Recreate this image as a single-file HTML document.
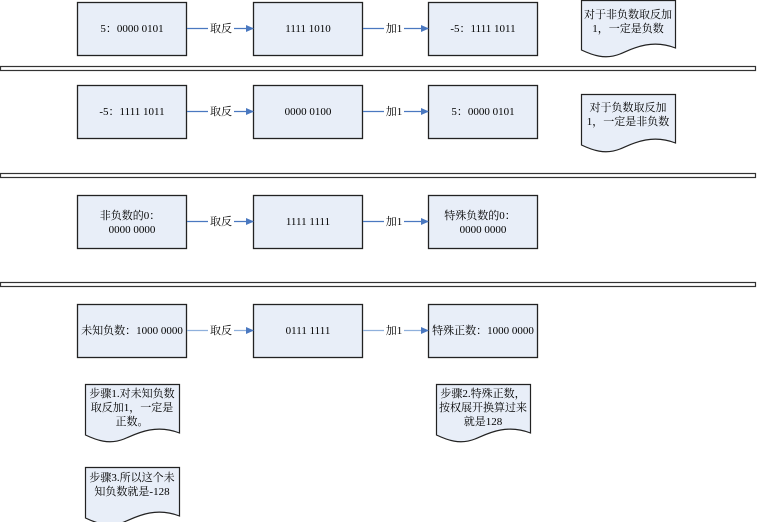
<!DOCTYPE html>
<html><head><meta charset="utf-8"><style>
html,body{margin:0;padding:0;background:#fff;}
svg{display:block;font-family:"Liberation Serif","Noto Serif CJK SC","Noto Sans CJK SC",serif;}
text{font-size:11px;fill:#000;}
</style></head><body>
<svg width="757" height="522" viewBox="0 0 757 522">
<defs>
<marker id="ar" markerWidth="8" markerHeight="8" refX="7" refY="4" orient="auto" markerUnits="userSpaceOnUse">
<path d="M0,0.5 L8,4 L0,7.5 Z" fill="#4a78c0"/></marker>
</defs>
<g fill="none" stroke="#333" stroke-width="1.2">
<rect x="0.5" y="66.5" width="755" height="4"/>
<rect x="0.5" y="173.5" width="755" height="4"/>
<rect x="0.5" y="282.5" width="755" height="4"/>
</g>
<g fill="#e8eef8" stroke="#222" stroke-width="1.3">
<rect x="77.5" y="2.5" width="109" height="53"/>
<rect x="253.5" y="2.5" width="109" height="53"/>
<rect x="428.5" y="2.5" width="109" height="53"/>
<rect x="77.5" y="85.5" width="109" height="53"/>
<rect x="253.5" y="85.5" width="109" height="53"/>
<rect x="428.5" y="85.5" width="109" height="53"/>
<rect x="77.5" y="195.5" width="109" height="53"/>
<rect x="253.5" y="195.5" width="109" height="53"/>
<rect x="428.5" y="195.5" width="109" height="53"/>
<rect x="77.5" y="304.5" width="109" height="53"/>
<rect x="253.5" y="304.5" width="109" height="53"/>
<rect x="428.5" y="304.5" width="109" height="53"/>
</g>
<g fill="#e8eef8" stroke="#222" stroke-width="1.2">
<path d="M581.5,0.5 H675.5 V48 C650,38 630,50 620,54 C605,60 592,55 581.5,50 Z"/>
<path d="M581.5,94.5 H675.5 V143 C650,133 630,145 620,149 C605,155 592,150 581.5,145 Z"/>
<path d="M85.5,384.5 H179.5 V433 C154,423 134,435 124,439 C109,445 96,440 85.5,435 Z"/>
<path d="M436.5,384.5 H530.5 V433 C505,423 485,435 475,439 C460,445 447,440 436.5,435 Z"/>
<path d="M85.5,467.5 H179.5 V516 C154,506 134,518 124,522 C109,528 96,523 85.5,518 Z"/>
</g>
<g stroke="#4a78c0" stroke-width="1.2" fill="none" marker-end="url(#ar)">
<path d="M187,28.5 H253"/><path d="M363,28.5 H428"/>
<path d="M187,111.5 H253"/><path d="M363,111.5 H428"/>
<path d="M187,221.5 H253"/><path d="M363,221.5 H428"/>
<path d="M187,330.5 H253" stroke="#8fb0dc"/><path d="M363,330.5 H428" stroke="#8fb0dc"/>
</g>
<g fill="#fff">
<rect x="208" y="22" width="26" height="13"/><rect x="384" y="22" width="20" height="13"/>
<rect x="208" y="105" width="26" height="13"/><rect x="384" y="105" width="20" height="13"/>
<rect x="208" y="215" width="26" height="13"/><rect x="384" y="215" width="20" height="13"/>
<rect x="208" y="324" width="26" height="13"/><rect x="384" y="324" width="20" height="13"/>
</g>
<g text-anchor="middle">
<text x="221" y="32">取反</text><text x="394" y="32">加1</text>
<text x="221" y="115">取反</text><text x="394" y="115">加1</text>
<text x="221" y="225">取反</text><text x="394" y="225">加1</text>
<text x="221" y="334">取反</text><text x="394" y="334">加1</text>
<text x="132" y="32">5：0000 0101</text>
<text x="308" y="32">1111 1010</text>
<text x="483" y="32">-5：1111 1011</text>
<text x="132" y="115">-5：1111 1011</text>
<text x="308" y="115">0000 0100</text>
<text x="483" y="115">5：0000 0101</text>
<text x="130" y="219">非负数的0：</text><text x="132" y="233">0000 0000</text>
<text x="308" y="225">1111 1111</text>
<text x="480" y="219">特殊负数的0：</text><text x="483" y="233">0000 0000</text>
<text x="132" y="334">未知负数：1000 0000</text>
<text x="308" y="334">0111 1111</text>
<text x="483" y="334">特殊正数：1000 0000</text>
<text x="628" y="18">对于非负数取反加</text><text x="628" y="32">1，一定是负数</text>
<text x="628" y="111">对于负数取反加</text><text x="628" y="125">1，一定是非负数</text>
<text x="132" y="397">步骤1.对未知负数</text><text x="132" y="411">取反加1，一定是</text><text x="132" y="425">正数。</text>
<text x="483" y="397">步骤2.特殊正数，</text><text x="483" y="411">按权展开换算过来</text><text x="483" y="425">就是128</text>
<text x="132" y="481">步骤3.所以这个未</text><text x="132" y="495">知负数就是-128</text>
</g>
</svg>
</body></html>
